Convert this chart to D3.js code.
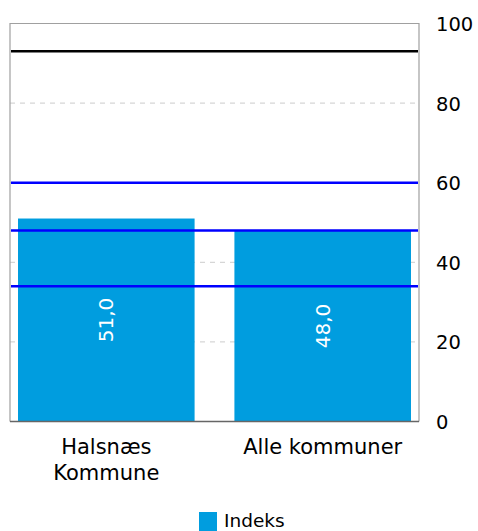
<!DOCTYPE html>
<html>
<head>
<meta charset="utf-8">
<script src="https://cdn.jsdelivr.net/npm/d3@7"></script>
<style>
  html, body { margin: 0; padding: 0; background: #fff; }
  svg { display: block; }
  svg text { font-family: "DejaVu Sans", Verdana, sans-serif; }
</style>
</head>
<body>
<div id="chart"></div>
<script>
// data
var categories = [['Halsnæs', 'Kommune'], ['Alle kommuner']];
var values = [51, 48];
var yTicks = [0, 20, 40, 60, 80, 100];
var refLines = [
  { value: 93, color: '#000000' },
  { value: 60, color: '#0000ff' },
  { value: 48, color: '#0000ff' },
  { value: 34, color: '#0000ff' }
];
var legendLabel = 'Indeks';
var barColor = '#009ddf';

var width = 478, height = 531;
var plot = { left: 10, right: 419, top: 23.5, bottom: 421.5 };

var svg = d3.select('#chart').append('svg')
    .attr('width', width).attr('height', height);

var x = d3.scaleBand()
    .domain(d3.range(values.length))
    .range([plot.left, plot.right])
    .paddingInner(0.184)
    .paddingOuter(0.037);

var y = d3.scaleLinear().domain([0, 100]).range([plot.bottom, plot.top]);

// dashed grid
svg.append('g').selectAll('line').data(yTicks.filter(function(d) { return d > 0 && d < 100; }))
  .enter().append('line')
    .attr('x1', plot.left).attr('x2', plot.right)
    .attr('y1', function(d) { return y(d); }).attr('y2', function(d) { return y(d); })
    .attr('stroke', '#cccccc').attr('stroke-width', 1)
    .attr('stroke-dasharray', '5,5');

// plot frame
svg.append('path')
    .attr('d', 'M' + plot.left + ',' + plot.bottom + 'V' + plot.top + 'H' + plot.right + 'V' + plot.bottom)
    .attr('fill', 'none').attr('stroke', '#a0a0a0').attr('stroke-width', 1.2);

// bars
svg.append('g').selectAll('rect').data(values)
  .enter().append('rect')
    .attr('x', function(d, i) { return x(i); })
    .attr('width', x.bandwidth())
    .attr('y', function(d) { return y(d); })
    .attr('height', function(d) { return y(0) - y(d); })
    .attr('fill', barColor);

// bottom axis line
svg.append('line')
    .attr('x1', plot.left).attr('x2', plot.right)
    .attr('y1', y(0)).attr('y2', y(0))
    .attr('stroke', '#666666').attr('stroke-width', 1.5);

// reference lines
svg.append('g').selectAll('line').data(refLines)
  .enter().append('line')
    .attr('x1', plot.left + 1).attr('x2', plot.right - 1)
    .attr('y1', function(d) { return y(d.value); }).attr('y2', function(d) { return y(d.value); })
    .attr('stroke', function(d) { return d.color; })
    .attr('stroke-width', 2.5);

// value labels, rotated
svg.append('g').selectAll('text').data(values)
  .enter().append('text')
    .attr('transform', function(d, i) {
      var cx = x(i) + x.bandwidth() / 2, cy = (y(d) + y(0)) / 2;
      return 'translate(' + cx + ',' + cy + ') rotate(-90)';
    })
    .attr('text-anchor', 'middle').attr('dy', '0.35em')
    .attr('fill', '#ffffff').style('font-size', '20px')
    .text(function(d) { return d3.format('.1f')(d).replace('.', ','); });

// right axis labels
var yAxis = d3.axisRight(y).tickValues(yTicks).tickSize(0).tickPadding(17);
var ya = svg.append('g').attr('transform', 'translate(' + plot.right + ',0)').call(yAxis)
    .attr('font-family', null).attr('font-size', null);
ya.select('.domain').remove();
ya.selectAll('text').style('font-size', '19.5px').attr('fill', '#000').attr('dy', '0.36em');

// category labels
var cat = svg.append('g').selectAll('text').data(categories)
  .enter().append('text')
    .attr('x', function(d, i) { return x(i) + x.bandwidth() / 2; })
    .attr('y', 454)
    .attr('text-anchor', 'middle').style('font-size', '21px').attr('fill', '#000');
cat.selectAll('tspan').data(function(d) { return d; })
  .enter().append('tspan')
    .attr('x', function() { return this.parentNode.getAttribute('x'); })
    .attr('dy', function(d, j) { return j ? 26 : 0; })
    .text(function(d) { return d; });

// legend
svg.append('rect').attr('x', 199).attr('y', 512).attr('width', 18).attr('height', 19).attr('fill', barColor);
svg.append('text').attr('x', 224).attr('y', 527).style('font-size', '18.5px').attr('fill', '#000').text(legendLabel);
</script>
</body>
</html>
